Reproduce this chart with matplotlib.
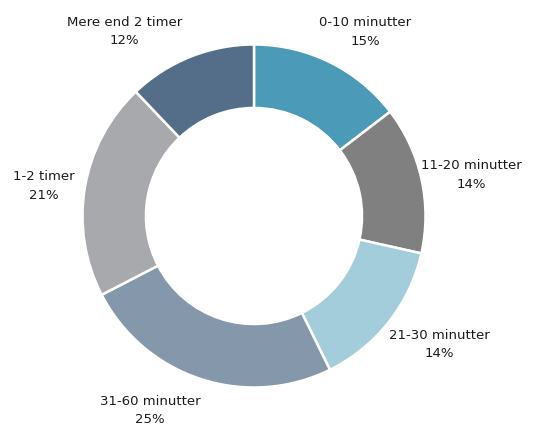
import numpy as np
import matplotlib
matplotlib.use('Agg')
import matplotlib.pyplot as plt

categories = ['0-10 minutter', '11-20 minutter', '21-30 minutter',
              '31-60 minutter', '1-2 timer', 'Mere end 2 timer']
shares = [14.6, 13.9, 14.2, 24.7, 20.5, 12.1]
pct_labels = ['15%', '14%', '14%', '25%', '21%', '12%']

colors = ['#4A9AB8', '#808080', '#A4CDDB', '#8597AB', '#A7A9AC', '#546E8A']

# label placement: (angle clockwise from top in degrees, distance in radii)
label_pos = [(31, 1.26), (79, 1.29), (124.6, 1.31), (208.3, 1.28),
             (278.4, 1.24), (325, 1.32)]

W, H, DPI = 534, 427, 100
R_PX = 171.5
CX, CY = 254, 210  # center in px from left / bottom

fig = plt.figure(figsize=(W / DPI, H / DPI), dpi=DPI)
ax = fig.add_axes([0, 0, 1, 1])

ax.pie(shares, colors=colors, startangle=90, counterclock=False,
       radius=1.0, wedgeprops=dict(width=0.37, edgecolor='white', linewidth=1.8))

for cat, pct, (ang, dist) in zip(categories, pct_labels, label_pos):
    a = np.deg2rad(ang)
    x, y = dist * np.sin(a), dist * np.cos(a)
    ax.text(x, y, f'{cat}\n{pct}', ha='center', va='center',
            fontsize=9.5, family='DejaVu Sans', color='#1a1a1a', linespacing=1.55)

ax.set_xlim(-CX / R_PX, (W - CX) / R_PX)
ax.set_ylim(-CY / R_PX, (H - CY) / R_PX)
ax.set_aspect('equal')
ax.axis('off')

fig.savefig('out.png', dpi=DPI)
